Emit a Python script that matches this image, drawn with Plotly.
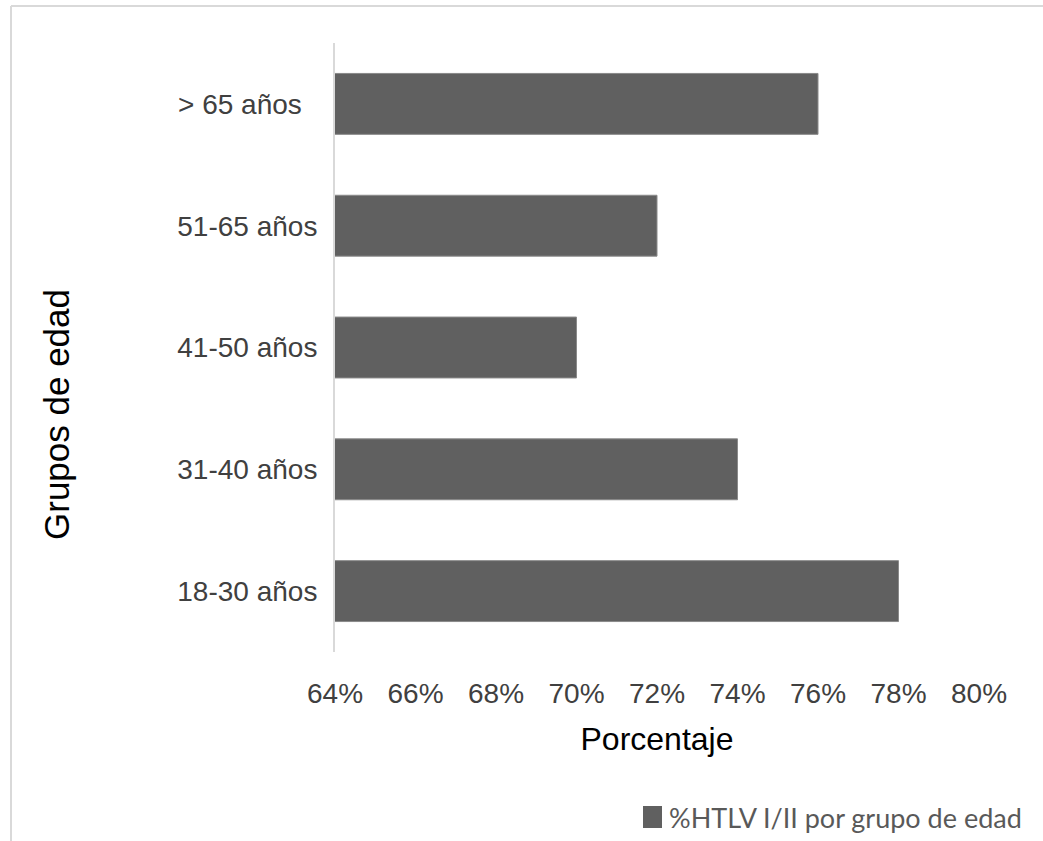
import plotly.graph_objects as go

categories = ["18-30 años", "31-40 años", "41-50 años", "51-65 años", "> 65 años"]
category_labels = ["18-30 años", "31-40 años", "41-50 años", "51-65 años", "> 65 años\u00a0\u00a0"]
values = [78, 74, 70, 72, 76]
x_ticks = [64, 66, 68, 70, 72, 74, 76, 78, 80]
x_ticklabels = [f"{v}%" for v in x_ticks]
series_name = "%HTLV I/II por grupo de edad"

BAR = "#606060"
L, R, T, B = 335, 64, 43, 189
W, H = 1043, 841
pw, ph = W - L - R, H - T - B
FONT = "Arial"

def px(x):
    return (x - L) / pw

def py(y):
    return (H - B - y) / ph

fig = go.Figure()
fig.add_trace(go.Bar(
    y=categories, x=values, base=0, orientation="h",
    marker=dict(color=BAR, line=dict(color="#8a8a8a", width=1)),
    name=series_name, showlegend=False,
))

fig.update_layout(
    width=W, height=H,
    margin=dict(l=L, r=R, t=T, b=B),
    paper_bgcolor="white", plot_bgcolor="white",
    bargap=0.5,
    font=dict(family=FONT, color="#404040"),
    xaxis=dict(
        range=[64, 80], tickvals=x_ticks, ticktext=x_ticklabels,
        showgrid=False, zeroline=False, showline=False,
        tickfont=dict(family=FONT, size=28, color="#404040"),
        ticks="outside", ticklen=16, tickcolor="rgba(0,0,0,0)",
        title=dict(text="Porcentaje", font=dict(family=FONT, size=32, color="#000000"), standoff=20),
    ),
    yaxis=dict(
        categoryorder="array", categoryarray=categories,
        tickvals=categories, ticktext=category_labels,
        showgrid=False, zeroline=False,
        showline=True, linecolor="#d9d9d9", linewidth=2,
        tickfont=dict(family=FONT, size=28, color="#404040"),
        ticks="outside", ticklen=10, tickcolor="rgba(0,0,0,0)",
    ),
)

# y axis title (placed lower than the plot centre, as in the reference)
fig.add_annotation(xref="paper", yref="paper", x=px(57), y=py(415),
                   xanchor="center", yanchor="middle", showarrow=False,
                   text="Grupos de edad", textangle=-90,
                   font=dict(family=FONT, size=35, color="#000000"))

# outer frame (partial border as in reference)
fig.add_shape(type="line", xref="paper", yref="paper",
              x0=px(11), x1=px(1043), y0=py(6), y1=py(6),
              line=dict(color="#d9d9d9", width=2))
fig.add_shape(type="line", xref="paper", yref="paper",
              x0=px(11), x1=px(11), y0=py(6), y1=py(841),
              line=dict(color="#d9d9d9", width=2))

# legend
fig.add_shape(type="rect", xref="paper", yref="paper",
              x0=px(643), x1=px(662), y0=py(806), y1=py(828),
              fillcolor=BAR, line=dict(width=0))
fig.add_annotation(xref="paper", yref="paper", x=px(667), y=py(817),
                   xanchor="left", yanchor="middle", showarrow=False,
                   text=series_name,
                   font=dict(family="Lato, sans-serif", size=27, color="#595959"))

fig.write_html("out.html")
